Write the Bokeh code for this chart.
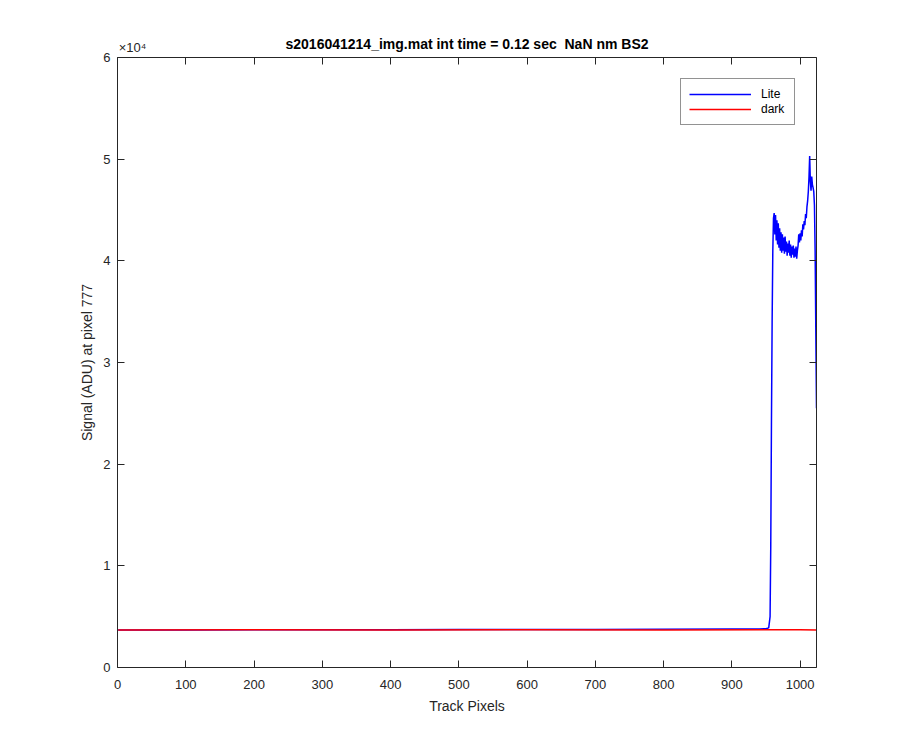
from bokeh.plotting import figure
from bokeh.models import LinearAxis, FixedTicker, Legend, LegendItem, Range1d
from bokeh.embed import file_html
from bokeh.resources import INLINE

title_text = "s2016041214_img.mat int time = 0.12 sec\u00a0 NaN nm BS2"
x_label = "Track Pixels"
y_label = "Signal (ADU) at pixel 777"
y_exponent_text = "\u00d710\u2074"
x_ticks = [0, 100, 200, 300, 400, 500, 600, 700, 800, 900, 1000]
y_ticks = [0, 10000, 20000, 30000, 40000, 50000, 60000]
y_tick_labels = ["0", "1", "2", "3", "4", "5", "6"]
series_names = ["Lite", "dark"]

lite_x = [1, 100, 200, 300, 400, 500, 600, 700, 800, 900, 940, 950, 954, 956, 957, 958, 959, 960,
          961, 962, 963, 964, 965, 966, 967, 968, 969, 970, 971, 972, 973, 974, 975, 976,
          977, 978, 979, 980, 981, 982, 983, 984, 985, 986, 987, 988, 989, 990, 991, 992,
          993, 994, 995, 996, 997, 998, 999, 1000, 1001, 1002, 1003, 1004, 1005, 1006, 1007,
          1008, 1009, 1010, 1011, 1012, 1013, 1014, 1015, 1016, 1017, 1018, 1019, 1020, 1021,
          1022, 1023, 1024]
lite_y = [3700, 3700, 3710, 3710, 3720, 3730, 3740, 3750, 3760, 3780, 3790, 3820, 3900, 5000, 12000, 24000, 34000, 41000,
          44200, 44700, 42600, 44500, 42000, 44000, 41600, 43700, 41300, 43200, 41000, 42800, 40800, 42600, 41000, 42300,
          40700, 42400, 40900, 41900, 40500, 41700, 40800, 42000, 40500, 41600, 40300, 41400, 40600, 41500, 40300, 41200,
          40400, 41400, 40200, 41000, 41500, 42600, 41800, 42700, 42000, 43000, 42400, 43600, 43100, 43900, 43500,
          44600, 44200, 45300, 45900, 46800, 48200, 50300, 47800, 46900, 48300, 47500, 47200, 46800, 45500,
          41000, 33000, 25500]

dark_x = [1, 200, 400, 600, 800, 1000, 1024]
dark_y = [3700, 3705, 3700, 3705, 3700, 3705, 3700]

FONT = "Liberation Sans"
TXT = "#262626"
EXP_LABEL_POS = 22  # horizontal anchor (data units) of the "x10^4" multiplier text

p = figure(frame_width=699, frame_height=610,
           x_range=Range1d(0, 1024), y_range=Range1d(0, 60000),
           output_backend="svg", toolbar_location=None,
           min_border_left=117, min_border_top=57, min_border_right=76, min_border_bottom=75,
           x_axis_label=x_label, y_axis_label=y_label)

p.background_fill_color = "white"
p.border_fill_color = "white"
p.outline_line_color = None
p.xgrid.visible = False
p.ygrid.visible = False
p.title.text = ""


def style_axis(ax, ticks, labels=None, show=True, standoff=6, label_standoff=7):
    ax.ticker = FixedTicker(ticks=ticks)
    ax.major_tick_in = 7
    ax.major_tick_out = 0
    ax.minor_tick_in = 0
    ax.minor_tick_out = 0
    ax.axis_line_color = TXT
    ax.axis_line_width = 1
    ax.major_tick_line_color = TXT
    ax.major_label_text_font = FONT
    ax.major_label_text_color = TXT
    ax.major_label_text_font_size = "13px"
    ax.major_label_standoff = standoff
    ax.axis_label_text_font = FONT
    ax.axis_label_text_font_size = "14px"
    ax.axis_label_text_font_style = "normal"
    ax.axis_label_text_color = TXT
    ax.axis_label_standoff = label_standoff
    if labels is not None:
        ax.major_label_overrides = {t: l for t, l in zip(ticks, labels)}
    if not show:
        ax.major_label_overrides = {t: "" for t in ticks}
        ax.major_label_standoff = 0


style_axis(p.xaxis[0], x_ticks, standoff=12, label_standoff=6)
style_axis(p.yaxis[0], y_ticks, y_tick_labels, standoff=7, label_standoff=5)

right_ax = LinearAxis()
style_axis(right_ax, y_ticks, show=False)
p.add_layout(right_ax, "right")

# top box edge: tick marks drawn as minor ticks, the only labelled tick carries the
# y multiplier text, and the axis label carries the chart title
top_ax = LinearAxis(ticker=FixedTicker(ticks=[EXP_LABEL_POS], minor_ticks=x_ticks),
                    major_label_overrides={EXP_LABEL_POS: y_exponent_text},
                    axis_line_color=TXT, axis_line_width=1,
                    major_tick_line_color=None, major_tick_in=0, major_tick_out=0,
                    minor_tick_line_color=TXT, minor_tick_in=7, minor_tick_out=0,
                    major_label_standoff=3,
                    major_label_text_font=FONT, major_label_text_font_size="13px",
                    major_label_text_color=TXT,
                    axis_label=title_text, axis_label_standoff=-15,
                    axis_label_text_font=FONT, axis_label_text_font_size="14px",
                    axis_label_text_font_style="bold", axis_label_text_color="black")
p.add_layout(top_ax, "above")

r_lite = p.line(lite_x, lite_y, line_color="#0000ff", line_width=1.5)
r_dark = p.line(dark_x, dark_y, line_color="#ff0000", line_width=1.5)

legend = Legend(items=[LegendItem(label=series_names[0], renderers=[r_lite]),
                       LegendItem(label=series_names[1], renderers=[r_dark])],
                location="top_right", margin=21,
                padding=8, spacing=1, label_height=14, glyph_height=14,
                glyph_width=62, label_standoff=10, label_width=25,
                label_text_font=FONT, label_text_font_size="12px", label_text_color="black",
                border_line_color=TXT, border_line_width=1.5,
                background_fill_color="white", background_fill_alpha=1.0)
p.add_layout(legend, "center")

open("out.html", "w").write(file_html(p, INLINE))
